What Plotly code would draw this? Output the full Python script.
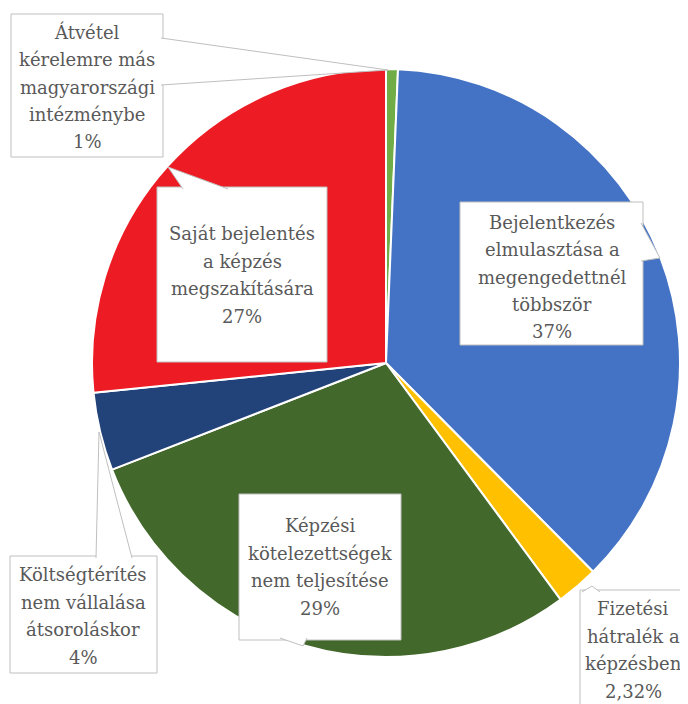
import plotly.graph_objects as go

# The page body adds an 8px margin, so the figure is drawn 8px smaller
OFF = 8
W, H = 688 - OFF, 704 - OFF

# ---- data ----
categories = [
    "Átvétel kérelemre más magyarországi intézménybe",
    "Bejelentkezés elmulasztása a megengedettnél többször",
    "Fizetési hátralék a képzésben",
    "Képzési kötelezettségek nem teljesítése",
    "Költségtérítés nem vállalása átsoroláskor",
    "Saját bejelentés a képzés megszakítására",
]
values = [0.65, 36.9, 2.32, 29.2, 4.3, 26.6]
pct_labels = ["1%", "37%", "2,32%", "29%", "4%", "27%"]
label_lines = [
    ["Átvétel", "kérelemre más", "magyarországi", "intézménybe"],
    ["Bejelentkezés", "elmulasztása a", "megengedettnél", "többször"],
    ["Fizetési", "hátralék a", "képzésben"],
    ["Képzési", "kötelezettségek", "nem teljesítése"],
    ["Költségtérítés", "nem vállalása", "átsoroláskor"],
    ["Saját bejelentés", "a képzés", "megszakítására"],
]
colors = ["#70AD47", "#4472C4", "#FFC000", "#43682B", "#22427A", "#ED1C24"]

# ---- layout of callouts (window pixel positions) ----
text_centers = [(87, 87), (552, 277), (633, 650), (320, 567), (83, 616), (242, 275)]
LINE_STEP = 27.5
boxes = [(11, 14, 163, 157), (460, 202, 643, 345), (580, 590, 700, 720),
         (239, 494, 401, 640), (10, 556, 157, 673), (157, 187, 327, 362)]
pointers = [
    [(161, 38), (388, 70), (161, 85)],
    [(641, 223), (660, 258), (641, 261)],
    [(582, 592), (592, 586), (600, 592)],
    [(280, 638), (303, 646), (307, 638)],
    [(96, 558), (99, 432), (132, 558)],
    [(183, 189), (168, 167), (228, 189)],
]

FONT = "DejaVu Serif"


def px(x):
    return (x - OFF) / W


def py(y):
    return 1 - (y - OFF) / H


fig = go.Figure(
    go.Pie(
        labels=categories,
        values=values,
        sort=False,
        direction="clockwise",
        rotation=0,
        textinfo="none",
        marker=dict(colors=colors, line=dict(color="white", width=2)),
        domain=dict(x=[px(92), px(680)], y=[py(657), py(69)]),
        showlegend=False,
        hoverinfo="label+percent",
    )
)

shapes = []
for (x0, y0, x1, y1) in boxes:
    shapes.append(dict(type="rect", xref="paper", yref="paper",
                       x0=px(x0), x1=px(x1), y0=py(y1), y1=py(y0),
                       fillcolor="white", line=dict(color="#BFBFBF", width=1),
                       layer="above"))
for pts in pointers:
    (a, b), (c, d), (e, f) = pts
    path = f"M {px(a)},{py(b)} L {px(c)},{py(d)} L {px(e)},{py(f)}"
    shapes.append(dict(type="path", xref="paper", yref="paper", path=path,
                       fillcolor="white", line=dict(color="#BFBFBF", width=1),
                       layer="above"))

annotations = []
for lines, pct, (cx, cy) in zip(label_lines, pct_labels, text_centers):
    all_lines = lines + [pct]
    n = len(all_lines)
    for i, line in enumerate(all_lines):
        ly = cy + (i - (n - 1) / 2) * LINE_STEP
        annotations.append(dict(
            text=line, xref="paper", yref="paper",
            x=px(cx), y=py(ly), xanchor="center", yanchor="middle",
            showarrow=False, align="center",
            font=dict(family=FONT, size=18, color="#595959"),
        ))

fig.update_layout(
    width=W, height=H,
    margin=dict(l=0, r=0, t=0, b=0),
    font=dict(family=FONT),
    paper_bgcolor="white", plot_bgcolor="white",
    shapes=shapes, annotations=annotations,
)

fig.write_html("out.html")
